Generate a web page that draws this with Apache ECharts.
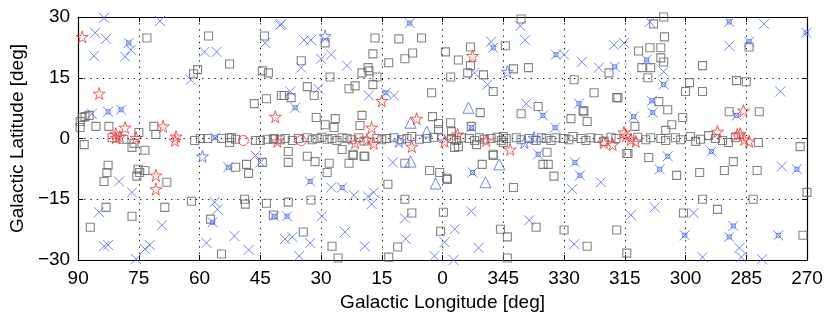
<!DOCTYPE html>
<html><head><meta charset="utf-8">
<script src="https://cdn.jsdelivr.net/npm/echarts@6/dist/echarts.min.js"></script>
<style>html,body{margin:0;padding:0;background:#fff}#c{width:830px;height:317px}</style>
</head><body><div id="c"></div>
<script>
// Tick labels
const xTicks = [90, 75, 60, 45, 30, 15, 0, 345, 330, 315, 300, 285, 270];
const yTicks = [-30, -15, 0, 15, 30];

// Gray squares [l, b]
const graySquares = [
 [89.5,4.2],[89,5.2],[88.3,5.4],[87.3,5.7],[89.5,2.7],[88.5,-1.5],[85.6,3.0],[82.4,3.0],[81.6,0.2],[78.7,-0.2],
 [76.2,-1.2],[76.7,-2.2],[73.5,-2.9],[75,1.5],[71.3,3.0],[70.8,1.0],
 [73,24.8],[57.8,25.3],[52.6,18.4],[60.5,17],[61.5,16],[46.5,8.6],[43.5,9.8],[44.5,16.7],[43,16.2],[44,25.3],[39.8,10.6],
 [61.2,-0.5],[59.8,0],[58,0],[54.6,0],[52.6,0.2],[52.1,0.2],[52.6,-1],[51.1,-0.2],[46.2,-0.5],[45,-0.5],[43.3,-0.2],[41.8,-0.2],
 [82.6,-6.6],[82.9,-8.4],[83.6,-10.6],[75.2,-7.6],[74.8,-8.4],[75.5,-9.3],[73.5,-7.9],[68.1,-10.8],[51.1,-7.1],[48.4,-6.4],
 [47.9,-8.6],[44.5,-5.9],[83.1,-17],[87,-21.9],[76.7,-19.2],[68.6,-17],[62,-15.5],[57.3,-19.9],[54.6,-28.5],[48.9,-15],
 [48.7,-16.2],[43.5,-16],[41.8,-18.9],
 [38.1,-5.9],[33.4,-4.4],[31.5,-5.7],[28,-6.1],[28.5,-8.4],[23.1,-6.1],[22.1,-4.2],[19.2,-4.4],[38.1,-15.7],[32.5,-15.2],
 [13.5,-11.3],[9.3,-15],[7.6,-18.4],[359.8,-18.2],[0.5,-22.9],[34.4,-23.1],[27.3,-26.6],[25.8,-29.5],[13.3,-29.3],[11.1,-26.8],
 [3.2,-7.9],[0.7,-8.4],[358.8,-10.1],[350.2,-6.4],[347.5,-4.2],[342.5,-12.1],[345.7,-22.4],[344,-24.3],[344,-29.5],[336.9,-21.9],
 [333.9,-6.4],[332.5,-9.3],
 [34.9,19.2],[29,23.6],[27.8,15.2],[16.7,24.8],[10.8,24.6],[5.2,24.8],[17.2,20.9],[13.3,18.7],[7.4,21.1],[9.3,19.7],
 [18.4,17.5],[19.9,16.2],[18.2,16.7],[16.2,15.2],[17.2,13.3],[21.6,13],[23.1,12.3],[33.4,12.8],[39.1,10.6],[37.4,10.1],
 [31.7,10.6],[2.7,11.3],[359.3,21.4],[356.1,19.4],[353.1,22.6],[353.1,18],[353.8,16.2],[349.9,15.7],[358,15.2],[347.5,11.6],
 [344.5,22.9],[342.5,17.2],[338.8,17.5],[340.6,29.5],[336.4,7.9],[340.6,6.1],[350.7,6.4],[31.2,5.2],[29,3.4],[26.5,4.9],
 [26.8,2.7],[19.9,5.7],[20.4,3.2],[2.5,5.4],[1,3.7],[358,3.9],[1,2.2],[357.8,1.7],[38.1,-3.2],[24.8,-2.7],[357,-2.2],
 [356.1,-2],[351.6,-1.5],[347.5,-3.9],[345,0.5],[345,-1],[334.2,-3.4],[22.1,-3.9],[19.4,-4.4],[9.3,-6.1],[359,-9.8],
 [335.2,-6.4],[352.9,3],[328.3,4.9],[325.1,6.6],[317,10.1],[314.5,-3.7],
 [305.4,30],[307.9,28.3],[305.2,25.1],[308.8,22.4],[311.6,21.6],[306.1,22.4],[306.1,19.9],[305.4,18.9],[310.8,17.5],[308.6,17.5],
 [309.3,15],[318.9,16.2],[327.5,14.5],[322.6,11.3],[316.7,10.1],[306.6,9.1],[304.4,7.1],[325.3,6.9],[324.3,4.2],[300.7,5.2],
 [303.4,3.4],[295.8,18],[299,13.8],[300,11.6],[295.8,11.6],[287.4,14.3],[285,14],[284.3,22.6],[289.2,6.6],[281.8,6.6],
 [271.7,-2],[304.9,2],[312.5,3],[314.2,-3.7],[309.1,-4.7],[302.2,-9.1],[296.5,-8.4],[290.4,-7.9],[288.2,-5.7],[282.3,-7.9],
 [270,-13.3],[295.8,-15],[283.3,-15],[300.5,-18.4],[292.1,-17.5],[330,-22.6],[324.3,-26.6],[317,-22.6],[314.5,-28.3],[271,-23.9],
 [282,-1],
 // Galactic plane
 [41.6,0],[40.1,-0.3],[38.9,0],[37.1,-0.5],[35.6,0],[33.4,0.2],[32.2,-0.3],[31,0],[29.8,0.3],[28.5,-0.2],[27.3,0],[26.1,-0.5],
 [24.8,0.2],[23.6,0],[22.4,-0.3],[20.7,0.2],[19.4,-0.6],[16.2,0],[15,-0.3],[13.8,0],[12,0.2],[10.1,-0.3],[8.8,0],[7.6,0.5],
 [5.7,-0.2],[3.9,0],[2.2,0.3],[357.8,0],[356.6,-0.5],[355.3,0.2],[353.4,0],[352.1,-0.5],[350.9,0.2],[349.7,-0.2],[348,0],
 [346.5,0.3],[345.5,-0.5],[344.3,0],[341.8,0.2],[340.6,-0.3],[338.6,0],[336.9,-0.5],[335.6,0.2],[334.4,0],[333.2,-0.5],
 [332,0.2],[330.2,0],[328.8,-0.3],[327.8,0.5],[325.8,0],[324.6,-0.5],[323.4,0.2],[321.6,0],[320.1,-0.7],[318.4,0.3],[317.2,0],
 [311.8,0.3],[309.8,-0.3],[308.6,0.2],[306.1,0],[304.9,-0.5],[302.5,0.2],[301.2,-0.3],[298.8,0.5],[297.5,-0.7],[296.3,-0.2],
 [294.3,0.7],[292.6,0],[290.9,-0.5],[289.4,-1],[287.7,0.2]
];

// Blue crosses [l, b]
const blueCrosses = [
 [83.6,29.8],[85.8,26.1],[83.1,24.6],[86.1,20.4],[78.4,20.2],[77,21.9],[77.5,23.6],[69.8,29],[58.8,21.4],[55.8,21.4],
 [62.2,14.5],[86.6,6.1],[82.6,6.6],[79.4,7.1],[56.1,0.2],[40.1,28],[43.8,23.6],[46.2,-4.2],[52.9,-7.1],[45,-5.9],
 [79.9,-10.6],[76.7,-13.3],[84.8,-18.2],[69.3,-21.4],[82.6,-26.3],[83.6,-26.6],[72.3,-26.3],[73.5,-27.3],[75.7,-29.8],
 [58.3,-25.8],[51.4,-24.1],[47.9,-27.5],[56.3,-15.7],[55.6,-17.5],[56.8,-20.7],[41.6,-19.2],
 [12.3,-5.9],[32.7,-10.6],[27.5,-12.1],[24.8,-12.1],[21.9,-14],[18.4,-14.3],[17,-13.3],[17.5,-16.2],[38.4,-19.2],[29.8,-19.2],
 [9.3,-19.7],[24.1,-23.1],[38.9,-24.8],[37.1,-24.3],[32.7,-25.8],[19.2,-26.6],[9.1,-24.8],[35.4,-29],[2,-29],[357.3,-30],
 [357,-22.4],[359.5,-25.6],[352.9,-18],[351.1,-27],[352.6,-8.4],[338.6,-20.2],[336.4,-3.9],
 [39.8,28.3],[34.2,24.3],[32.5,24.3],[30,19.7],[27.5,20.7],[34.9,17.5],[23.6,18],[8.1,28.5],[348,23.9],[347.5,22.4],
 [340.8,27.8],[339.6,24.3],[37.6,11.6],[30.7,12.3],[36.4,7.6],[18.2,10.6],[14,11.3],[12,10.6],[348.9,13.3],[352.1,16.2],
 [339.3,8.6],[335.2,5.7],[352.9,2.7],[326.3,8.6],[332.2,2.7],[327.3,-5.9],[326.1,-9.1],[320.9,-10.8],
 [308.3,9.3],[308.1,6.4],[312.8,5.4],[287.4,5.7],[304.4,-4.4],[306.4,-7.6],[293.6,-3.2],[276.2,-6.9],[272.5,-7.6],
 [328,-12.5],[313.5,-18.9],[307.6,-17],[298,-18.4],[288.2,-21.6],[289.2,-24.3],[300.2,-23.9],[277.1,-23.9],[327.5,-26.1],
 [286.7,-27],[295.8,-29.3],[286.2,-29.3],[281.1,-29.8],
 [308.8,28.8],[289.2,28.8],[280.6,28.3],[270.2,26.1],[317.7,23.1],[315.2,23.6],[332,20.7],[330,20.7],[325.6,18.9],[321.4,17.5],
 [317.5,17.7],[309.6,19.4],[305.4,16.5],[305.4,13.3],[289.2,22.9],[284.3,23.9],[276.6,11.6]
];

// Blue crosses overlaid with a small square [l, b]
const blueBoxed = [
 [77.5,23.6],[82.6,6.6],[79.4,7.1],[56.1,0.2],[52.9,-7.1],[56.8,-20.7],[41.6,-19.2],[32.7,-10.6],[24.8,-12.1],[38.4,-19.2],
 [352.6,-8.4],[336.4,-3.9],[8.1,28.5],[347.5,22.4],[36.4,7.6],[14,11.3],[335.2,5.7],[352.9,2.7],[326.3,8.6],[332.2,2.7],
 [327.3,-5.9],[326.1,-9.1],[308.3,9.3],[308.1,6.4],[312.8,5.4],[287.4,5.7],[304.4,-4.4],[306.4,-7.6],[293.6,-3.2],[272.5,-7.6],
 [288.2,-21.6],[289.2,-24.3],[300.2,-23.9],[277.1,-23.9],[289.2,28.8],[270.2,26.1],[332,20.7],[317.5,17.7],[309.6,19.4],
 [305.4,13.3],[284.3,23.9]
];

// Blue stars, triangles, circle [l, b]
const blueStars = [[59.3,-4.4],[29,25.3],[10.8,-0.7],[344,16.5],[339.8,-1],[337.4,0.2]];
const blueTriangles = [[353.6,7.6],[7.9,3.9],[3.9,1.7],[7.9,-5.7],[1.7,-11.1],[346,-6.4],[349.4,-10.8]];
const blueCircles = [[0.2,0]];

// Red stars and circles [l, b]
const redStars = [
 [89,25.1],[84.8,11.1],[80.7,1.2],[79.7,0.5],[80.7,0.2],[78.4,2.7],[75.7,0.2],[69,3],[65.8,0.5],[66.1,-0.5],
 [70.8,-9.1],[70.8,-12.5],[41.3,5.4],[40.8,-0.7],[15,9.3],[17.5,2.7],[21.6,-1],[18.7,-0.2],[17,-1.2],[7.6,-2],
 [6.4,4.9],[352.6,20.4],[356.3,1],[359.5,-0.7],[349.2,-0.5],[343.3,-2.7],[320.2,-1],[318,-1.5],[315.2,1.5],[314.7,0.7],
 [313.5,-0.2],[312.3,-0.7],[285.7,6.9],[292.1,1.7],[287.2,1],[286.5,1.2],[284.3,-0.7],[285.5,-0.2]
];
const redCircles = [[49.2,-0.5],[34.9,-0.5]];

const toAxis = a => a.map(p => [p[0] > 180 ? p[0] - 360 : p[0], p[1]]);

const BLUE = '#4a68ff', RED = '#ff2a2a', GRAY = '#666666';
const STAR = 'path://M50,0 L61,35 L98,35 L68,57 L79,91 L50,70 L21,91 L32,57 L2,35 L39,35 Z';
const CROSS = 'path://M0,0L10,10M10,0L0,10';
const hollow = (c, w) => ({color: 'rgba(0,0,0,0)', borderColor: c, borderWidth: w || 1});

const chart = echarts.init(document.getElementById('c'), null, {renderer: 'canvas'});
const FONT = 'Liberation Sans';
const axisCommon = {min: -90, max: 90, interval: 15};
const lineStyleAxis = {show: true, onZero: false, lineStyle: {color: '#000', width: 1.2}};
chart.setOption({
  animation: false,
  backgroundColor: '#fff',
  grid: {left: 75, right: 23, top: 17, bottom: 56, containLabel: false},
  xAxis: [{
    type: 'value', ...axisCommon, inverse: true, position: 'bottom',
    name: 'Galactic Longitude [deg]', nameLocation: 'middle', nameGap: 33,
    nameTextStyle: {fontFamily: FONT, fontSize: 19, color: '#000'},
    axisLine: lineStyleAxis,
    axisTick: {show: true, inside: true, length: 5, lineStyle: {color: '#000'}},
    axisLabel: {fontFamily: FONT, fontSize: 19, color: '#000', margin: 9,
      formatter: v => String(v < 0 ? v + 360 : v)},
    splitLine: {show: true, lineStyle: {color: '#000', type: [1.2, 5], width: 1}}
  }, {
    type: 'value', ...axisCommon, inverse: true, position: 'top',
    axisLine: lineStyleAxis,
    axisTick: {show: true, inside: true, length: 5, lineStyle: {color: '#000'}},
    axisLabel: {show: false}, splitLine: {show: false}
  }],
  yAxis: [{
    type: 'value', min: -30, max: 30, interval: 15, position: 'left',
    name: 'Galactic Latitude [deg]', nameLocation: 'middle', nameGap: 48, nameRotate: 90,
    nameTextStyle: {fontFamily: FONT, fontSize: 19, color: '#000'},
    axisLine: lineStyleAxis,
    axisTick: {show: true, inside: true, length: 5, lineStyle: {color: '#000'}},
    axisLabel: {fontFamily: FONT, fontSize: 19, color: '#000', margin: 8,
      formatter: v => (v < 0 ? '\u2212' + (-v) : String(v))},
    splitLine: {show: true, lineStyle: {color: '#000', type: [1.2, 5], width: 1}}
  }, {
    type: 'value', min: -30, max: 30, interval: 15, position: 'right',
    axisLine: lineStyleAxis,
    axisTick: {show: true, inside: true, length: 5, lineStyle: {color: '#000'}},
    axisLabel: {show: false}, splitLine: {show: false}
  }],
  series: [
    {type: 'scatter', data: toAxis(graySquares), symbol: 'rect', symbolSize: 8, itemStyle: hollow(GRAY, 1.1)},
    {type: 'scatter', data: toAxis(blueCrosses), symbol: CROSS, symbolSize: 10, itemStyle: hollow(BLUE, 1)},
    {type: 'scatter', data: toAxis(blueBoxed), symbol: 'rect', symbolSize: 4, itemStyle: hollow(BLUE, 1)},
    {type: 'scatter', data: toAxis(blueStars), symbol: STAR, symbolSize: 12, itemStyle: hollow(BLUE, 1)},
    {type: 'scatter', data: toAxis(blueTriangles), symbol: 'triangle', symbolSize: 11, itemStyle: hollow(BLUE, 1)},
    {type: 'scatter', data: toAxis(blueCircles), symbol: 'circle', symbolSize: 9, itemStyle: hollow(BLUE, 1)},
    {type: 'scatter', data: toAxis(redStars), symbol: STAR, symbolSize: 12, itemStyle: hollow(RED, 1)},
    {type: 'scatter', data: toAxis(redCircles), symbol: 'circle', symbolSize: 10, itemStyle: hollow(RED, 1)}
  ]
});
</script></body></html>
